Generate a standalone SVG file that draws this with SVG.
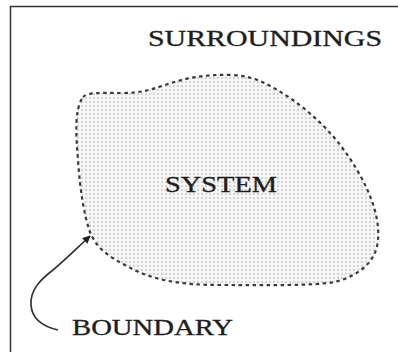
<svg xmlns="http://www.w3.org/2000/svg" width="398" height="352" viewBox="0 0 398 352">
<style>
.lbl{font-family:"Liberation Serif","DejaVu Serif",serif;font-size:24px;fill:#1e1e1e;stroke:#1e1e1e;stroke-width:0.35}
.frame{stroke:#333;stroke-width:1.5;fill:none}
.boundary{fill:url(#dots);stroke:#3a3a3a;stroke-width:2.2;stroke-dasharray:3.5 3.5}
.conn{fill:none;stroke:#333;stroke-width:1.7}
</style>
<defs>
<pattern id="dots" width="4" height="4" patternUnits="userSpaceOnUse">
<rect width="4" height="4" fill="#f6f6f6"/>
<circle cx="2" cy="2" r="0.9" fill="#c4c4c4"/>
</pattern>
<marker id="ah" viewBox="0 0 10 10" refX="9" refY="5" markerWidth="8" markerHeight="8" orient="auto" markerUnits="userSpaceOnUse">
<path d="M0,0 L10,5 L0,10 Z" fill="#222"/>
</marker>
</defs>
<rect width="398" height="352" fill="#fff"/>
<path class="frame" d="M10.5,352 V6.5 H398"/>
<g id="system">
<path class="boundary" d="M83,97 C88,92 100,93 123,93 C140,93 150,90 165,85 C185,78 205,74 233,75 C255,76 270,85 290,98 C315,115 340,140 357,170 C372,195 380,220 378,240 C376,262 360,275 335,282 C310,286 270,285 220,285 C180,285 150,280 125,265 C105,255 95,245 90,232 C84,215 80,190 78,160 C76,135 74,110 83,97 Z"/>
<text class="lbl" x="165" y="192" textLength="112" lengthAdjust="spacingAndGlyphs">SYSTEM</text>
</g>
<g id="surroundings">
<text class="lbl" x="148" y="46" textLength="234" lengthAdjust="spacingAndGlyphs">SURROUNDINGS</text>
</g>
<g id="boundary-label">
<text class="lbl" x="72" y="335" textLength="161" lengthAdjust="spacingAndGlyphs">BOUNDARY</text>
</g>
<g id="connectors">
<path class="conn" marker-end="url(#ah)" d="M58,330 C45,327 32,320 31,305 C30,290 40,280 53,270 C65,260 75,250 90,236"/>
</g>
</svg>
